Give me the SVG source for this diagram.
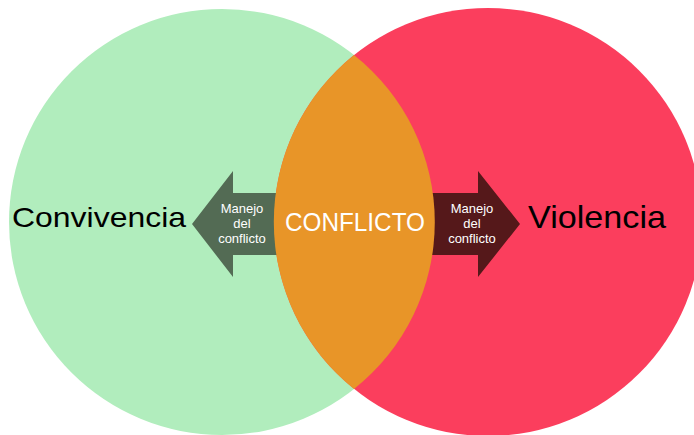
<svg xmlns="http://www.w3.org/2000/svg" width="694" height="435" viewBox="0 0 694 435">
<style>
.big{font-family:"Liberation Sans",Arial,sans-serif;fill:#000;}
.small{font-family:"Liberation Sans",Arial,sans-serif;fill:#fff;font-size:13px;text-anchor:middle;}
</style>
<rect width="694" height="435" fill="#fff"/>
<g id="convivencia">
<circle cx="222" cy="222" r="213" fill="#B1EDBD"/>
</g>
<g id="violencia">
<circle cx="488" cy="222" r="214" fill="#FB3E5D"/>
</g>
<g id="connectors">
<polygon id="arrow-left" points="300,193 233,193 233,171 192,224 233,277 233,255 300,255" fill="#536B54"/>
<polygon id="arrow-right" points="410,193 478,193 478,171 520,224 478,277 478,255 410,255" fill="#55181A"/>
<text class="small" x="242" y="213">Manejo</text>
<text class="small" x="242" y="228">del</text>
<text class="small" x="242" y="243">conflicto</text>
<text class="small" x="472" y="213">Manejo</text>
<text class="small" x="472" y="228">del</text>
<text class="small" x="472" y="243">conflicto</text>
</g>
<g id="conflicto">
<path d="M354,55 A214,214 0 0 0 354,389 A213,213 0 0 0 354,55 Z" fill="#E89528"/>
<text x="285" y="231" font-family="'Liberation Sans',Arial,sans-serif" font-size="26" fill="#fff" textLength="140" lengthAdjust="spacingAndGlyphs">CONFLICTO</text>
</g>
<text class="big" x="12" y="227" font-size="28" textLength="174" lengthAdjust="spacingAndGlyphs">Convivencia</text>
<text class="big" x="528" y="228" font-size="32" textLength="138" lengthAdjust="spacingAndGlyphs">Violencia</text>
</svg>
